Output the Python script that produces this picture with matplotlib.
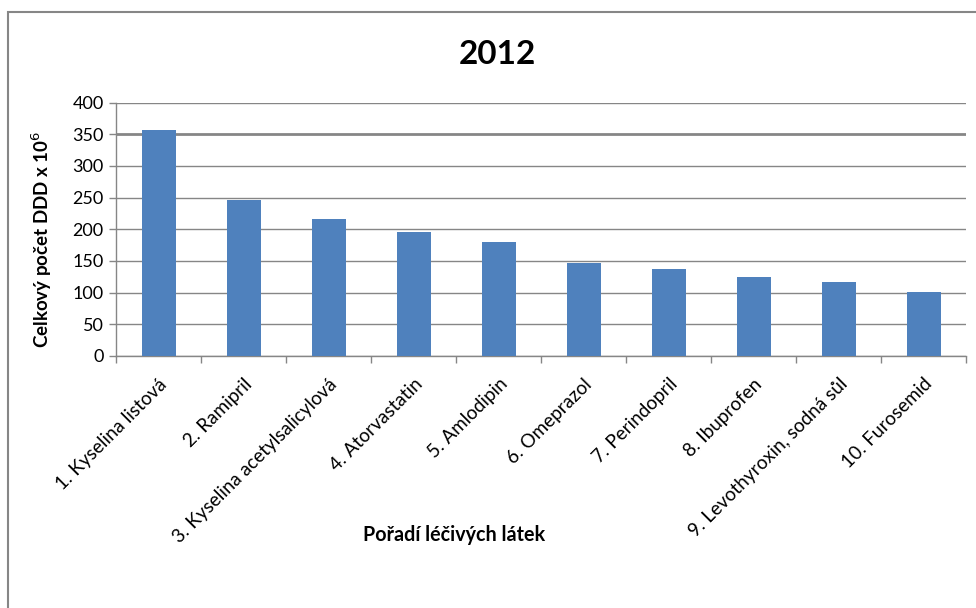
import matplotlib.pyplot as plt
from matplotlib.patches import Rectangle
from matplotlib.ticker import FixedLocator

plt.rcParams['font.family'] = ['Lato', 'DejaVu Sans']

# Top 10 drugs by total DDD in 2012 (millions)
drugs = [
    "1. Kyselina listová",
    "2. Ramipril",
    "3. Kyselina acetylsalicylová",
    "4. Atorvastatin",
    "5. Amlodipin",
    "6. Omeprazol",
    "7. Perindopril",
    "8. Ibuprofen",
    "9. Levothyroxin, sodná sůl",
    "10. Furosemid",
]
ddd_millions = [357, 246, 216, 196, 180, 147, 137, 125, 117, 101]
y_ticks = [0, 50, 100, 150, 200, 250, 300, 350, 400]

grey = '#868686'
bar_color = '#4F81BD'

fig = plt.figure(figsize=(9.76, 6.08), dpi=100)
ax = fig.add_axes([0.1189, 0.4145, 0.8709, 0.4169])

x = range(len(drugs))
ax.bar(x, ddd_millions, width=0.4, color=bar_color, zorder=3)

ax.set_xlim(-0.5, len(drugs) - 0.5)
ax.set_ylim(0, 400)
ax.set_yticks(y_ticks)
ax.tick_params(axis='y', labelsize=13, length=5, width=1, color=grey, pad=4)
ax.grid(axis='y', color=grey, linewidth=1, zorder=0)
ax.get_ygridlines()[y_ticks.index(350)].set_linewidth(2)

ax.set_xticks(list(x))
ax.set_xticklabels(drugs, rotation=45, ha='right', rotation_mode='anchor', fontsize=13.6)
ax.tick_params(axis='x', which='major', length=0, pad=14)
ax.xaxis.set_minor_locator(FixedLocator([i - 0.5 for i in range(len(drugs) + 1)]))
ax.tick_params(axis='x', which='minor', length=5, width=1, color=grey)

for side in ('top', 'right'):
    ax.spines[side].set_visible(False)
for side in ('left', 'bottom'):
    ax.spines[side].set_color(grey)
    ax.spines[side].set_linewidth(1)

ax.set_ylabel("Celkový počet DDD x 10$^{6}$", fontsize=13.5, fontweight='bold')
ax.yaxis.set_label_coords(-0.073, 0.46)

fig.text(0.510, 0.911, "2012", fontsize=24, fontweight='bold', ha='center', va='center')
fig.text(0.465, 0.120, "Pořadí léčivých látek", fontsize=14.2, fontweight='bold',
         ha='center', va='center')

# chart frame
fig.patches.append(Rectangle((8 / 976, -0.05), 1.1, 1.05 - 12 / 608,
                             transform=fig.transFigure, fill=False,
                             edgecolor=grey, linewidth=1.5))

fig.savefig("out.png", dpi=100)
